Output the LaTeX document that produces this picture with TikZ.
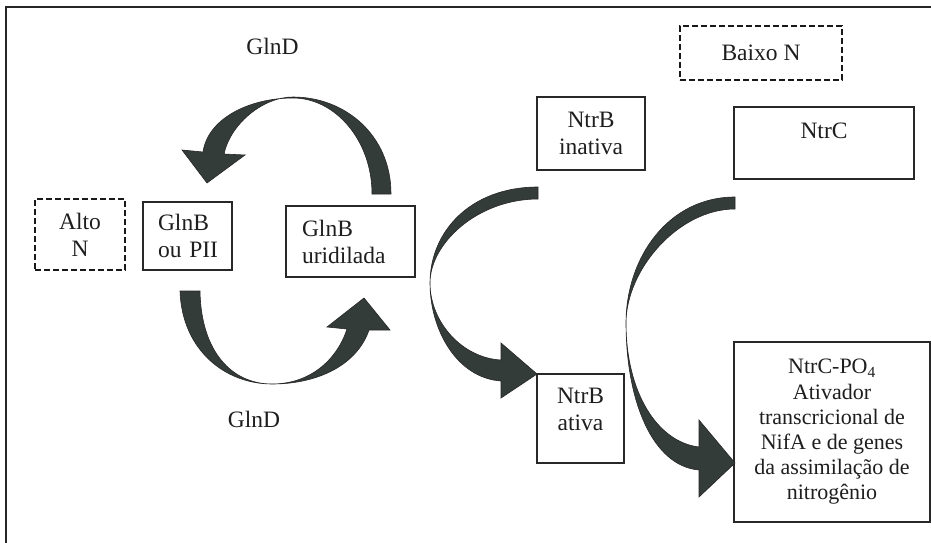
\documentclass[tikz,border=0pt]{standalone}
\usepackage{fontspec}
\setmainfont{Liberation Serif}
\definecolor{arrowfill}{RGB}{52,60,58}
\definecolor{boxline}{RGB}{40,40,40}
\definecolor{txt}{RGB}{30,30,30}
\begin{document}
\begin{tikzpicture}[x=1pt,y=-1pt,
  box/.style={draw=boxline, line width=1.2pt, inner sep=0pt, align=center, text=txt,
    font=\fontsize{23.5}{27}\selectfont},
  dbox/.style={box, draw=black!90, line width=2.6pt, dash pattern=on 6pt off 3pt},
  lbl/.style={inner sep=0pt, text=txt, font=\fontsize{23.5}{27}\selectfont},
  curvearrow/.style={fill=arrowfill, draw=black!85, line width=0.6pt, line join=miter}]

\useasboundingbox (0,0) rectangle (931,543);
\fill[white] (0,0) rectangle (931,543);
\draw[line width=1.5pt, draw=black!85] (6,543) -- (6,7) -- (931,7);

% boxes
\node[dbox, minimum width=90pt, minimum height=71pt] (alto) at (80,234.5) {Alto\\N};
\node[box, minimum width=89pt, minimum height=68pt, text width=59pt, align=left] (glnb) at (187.5,236) {GlnB\\\mbox{ou PII}};
\node[box, minimum width=129pt, minimum height=71pt, text width=97pt, align=left] (glnbu) at (350.5,241.5) {GlnB\\uridilada};
\node[box, minimum width=108pt, minimum height=73pt] (ntrbi) at (591,133.5) {NtrB\\inativa};
\node[box, minimum width=87pt, minimum height=89pt] (ntrba) at (580.5,418.5) {NtrB\\ativa\\[-8pt]\mbox{}};
\node[box, minimum width=180pt, minimum height=72pt] (ntrc) at (824,143) {NtrC\\[-2pt]\mbox{}};
\node[dbox, minimum width=162pt, minimum height=54pt] (baixo) at (761,53) {Baixo N};
\node[box, minimum width=196pt, minimum height=180pt, font=\fontsize{22}{25.2}\selectfont] (ntrcp) at (832,432)
  {NtrC-PO\textsubscript{4}\\Ativador\\transcricional de\\NifA e de genes\\da assimilação de\\nitrogênio};

% labels
\node[lbl, anchor=base] (glndtop) at (272.5,55) {GlnD};
\node[lbl, anchor=base] (glndbot) at (254,427) {GlnD};

% curved arrows
% GlnB uridilada -> GlnB (top)
\draw[curvearrow] (391,194) .. controls (391,135) and (345,97) .. (293,97)
  .. controls (262,97) and (230,125) .. (224,154)
  -- (245,155) -- (207,183) -- (182,150) -- (203,152)
  .. controls (208,118) and (250,98) .. (293,98)
  .. controls (335,98) and (372,140) .. (372,194) -- cycle;
% GlnB -> GlnB uridilada (bottom)
\draw[curvearrow] (180,291) .. controls (182,350) and (225,384) .. (272,384)
  .. controls (310,384) and (337,360) .. (347,329)
  -- (327,327) -- (364,298) -- (390,330) -- (369,330)
  .. controls (357,365) and (318,384) .. (272,384)
  .. controls (232,384) and (201,352) .. (200,291) -- cycle;
% NtrB inativa -> NtrB ativa
\draw[curvearrow] (538,187) .. controls (470,187) and (430,232) .. (430,283)
  .. controls (430,322) and (462,358) .. (501,360)
  -- (501,343) -- (537,374) -- (501,398) -- (501,381)
  .. controls (457,378) and (430,330) .. (430,283)
  .. controls (430,243) and (478,199) .. (538,199) -- cycle;
% NtrC -> NtrC-PO4
\draw[curvearrow] (735,197) .. controls (668,197) and (626,258) .. (626,323)
  .. controls (626,392) and (657,442) .. (699,447)
  -- (699,420) -- (735,463) -- (699,497) -- (699,470)
  .. controls (652,466) and (626,400) .. (626,323)
  .. controls (626,270) and (678,209) .. (735,209) -- cycle;
\end{tikzpicture}
\end{document}
